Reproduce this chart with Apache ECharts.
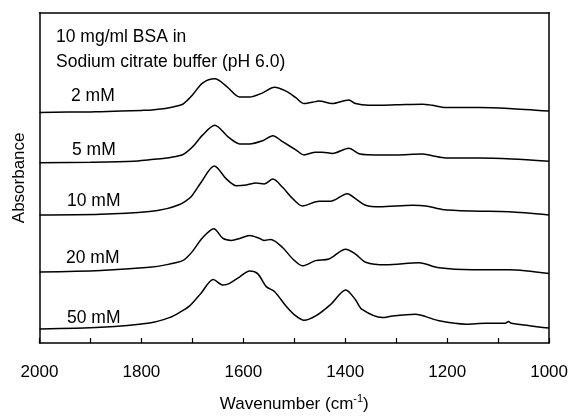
<!DOCTYPE html>
<html>
<head>
<meta charset="utf-8">
<script src="https://cdn.jsdelivr.net/npm/echarts@6/dist/echarts.min.js"></script>
<style>html,body{margin:0;padding:0;background:#fff}#c{width:571px;height:419px}</style>
</head>
<body>
<div id="c"></div>
<script>
// Wavenumber (cm-1) tick labels
var xTicks = [2000, 1800, 1600, 1400, 1200, 1000];
var seriesNames = ['2 mM', '5 mM', '10 mM', '20 mM', '50 mM'];
var noteLines = ['10 mg/ml BSA in', 'Sodium citrate buffer (pH 6.0)'];

// Stacked spectra (absorbance, arbitrary offset units), [wavenumber, value]
var s2mM = [[2000,236],[1900,236.5],[1880,236.7],[1800,238],[1784,238.3],[1753,240],[1736,241.8],[1719,244.3],[1709,248.8],[1699,254.3],[1680,266],[1656,270.3],[1633,262.7],[1607,251.7],[1588,251.7],[1562,256],[1539,261.7],[1516,257.7],[1497,251],[1481,245],[1458,247],[1451,247.7],[1426,245],[1393,248.7],[1380,245],[1354,243.3],[1301,243.7],[1249,244.3],[1230,243.3],[1203,241],[1138,241],[1079,240],[1000,237.3]];
var s5mM = [[2000,184.5],[1900,185],[1815,186],[1784,187.5],[1754,189],[1736,190.6],[1719,192.7],[1709,196.3],[1699,201],[1680,212.7],[1656,222.7],[1630,211],[1607,203.7],[1588,203.7],[1562,207],[1542,212],[1523,206],[1497,197.7],[1481,192.5],[1458,195.3],[1445,195.3],[1425,194],[1393,199.3],[1373,193.7],[1354,192.7],[1301,192.3],[1249,193.3],[1230,191.7],[1203,189.3],[1138,189.3],[1073,188.3],[1000,186]];
var s10mM = [[2000,131],[1880,131.7],[1784,134.5],[1750,137.5],[1725,141.7],[1714,145],[1703,149.3],[1683,164.3],[1657,181],[1633,167.7],[1614,161],[1594,161.7],[1575,163.7],[1559,162.7],[1542,167.7],[1523,159.3],[1503,147.7],[1484,140.3],[1451,145],[1429,145],[1396,152.7],[1380,147.7],[1360,141],[1333,139.3],[1268,141],[1242,140.3],[1210,136.7],[1151,135],[1079,134.3],[1000,131]];
var s20mM = [[2000,72.7],[1880,74.3],[1784,77.5],[1750,80.2],[1719,84.3],[1709,88.5],[1699,94.3],[1680,107.7],[1658,117],[1640,107],[1623,105],[1607,107],[1588,110],[1568,107],[1559,105],[1546,106],[1523,97.7],[1503,86],[1484,79],[1458,84.3],[1432,86],[1399,96],[1380,91],[1360,82.7],[1320,80],[1255,82],[1216,77],[1151,75],[1079,75],[1000,71]];
var s50mM = [[2000,14.3],[1880,16],[1784,20.5],[1745,26],[1726,31],[1706,37.7],[1683,51],[1659,65],[1640,59.3],[1627,61],[1607,67.7],[1588,73.7],[1572,71],[1555,57.7],[1539,52.7],[1516,37.7],[1497,27.7],[1481,23.3],[1458,27.7],[1429,39.3],[1399,54.3],[1380,44.3],[1367,34.3],[1327,26],[1307,27.7],[1262,29.3],[1242,27],[1216,22.7],[1163,19.3],[1125,20.3],[1086,20.3],[1080,22],[1074,20.3],[1000,15.3]];
var allSpectra = [s2mM, s5mM, s10mM, s20mM, s50mM];

var FONT = '"Liberation Sans", Arial, sans-serif';
var chart = echarts.init(document.getElementById('c'));

var labelPos = [[71, 95.5], [72, 150], [67, 201], [66, 257.5], [67, 318]];
var notePos = [[56, 36.5], [56, 61.5]];
var graphics = [];
noteLines.forEach(function (t, i) {
  graphics.push({type: 'text', left: notePos[i][0], top: notePos[i][1] - 8.5, style: {text: t, font: '17.5px ' + FONT, fill: '#000'}});
});
seriesNames.forEach(function (t, i) {
  graphics.push({type: 'text', left: labelPos[i][0], top: labelPos[i][1] - 8.5, style: {text: t, font: '17.5px ' + FONT, fill: '#000'}});
});

var axisLineStyle = {onZero: false, lineStyle: {color: '#000', width: 1.5}};

chart.setOption({
  animation: false,
  backgroundColor: '#fff',
  grid: {left: 39.5, right: 20.5, top: 12.7, bottom: 68.3, containLabel: false},
  xAxis: [{
    type: 'value', min: 1000, max: 2000, interval: 100, inverse: true,
    axisLine: axisLineStyle,
    axisTick: {show: true, inside: true, length: 5, lineStyle: {color: '#000', width: 1.2}},
    axisLabel: {
      interval: 1, margin: 21, color: '#000', fontSize: 17, fontFamily: FONT,
      formatter: function (v) { return xTicks.indexOf(v) >= 0 ? String(v) : ''; }
    },
    splitLine: {show: false},
    name: '{n|Wavenumber (cm}{s|-1}{n|)}',
    nameLocation: 'middle', nameGap: 50,
    nameTextStyle: {rich: {
      n: {fontSize: 17, fontFamily: FONT, color: '#000', verticalAlign: 'bottom', lineHeight: 20},
      s: {fontSize: 11, fontFamily: FONT, color: '#000', verticalAlign: 'top', lineHeight: 20, padding: [0, 0, 10, 0]}
    }}
  }, {
    type: 'value', min: 1000, max: 2000, inverse: true, position: 'top',
    axisLine: axisLineStyle, axisTick: {show: false}, axisLabel: {show: false}, splitLine: {show: false}
  }],
  yAxis: [{
    type: 'value', min: 0, max: 338,
    axisLine: {show: true, onZero: false, lineStyle: {color: '#000', width: 1.5}},
    axisTick: {show: false}, axisLabel: {show: false}, splitLine: {show: false},
    name: 'Absorbance', nameLocation: 'middle', nameGap: 12, nameRotate: 90,
    nameTextStyle: {fontSize: 17, fontFamily: FONT, color: '#000'}
  }, {
    type: 'value', min: 0, max: 338, position: 'right',
    axisLine: {show: true, onZero: false, lineStyle: {color: '#000', width: 1.5}},
    axisTick: {show: false}, axisLabel: {show: false}, splitLine: {show: false}
  }],
  series: allSpectra.map(function (d, i) {
    return {
      name: seriesNames[i], type: 'line', data: d, smooth: 0.3, symbol: 'none',
      lineStyle: {color: '#000', width: 1.5}, silent: true
    };
  }),
  graphic: graphics
});
</script>
</body>
</html>
